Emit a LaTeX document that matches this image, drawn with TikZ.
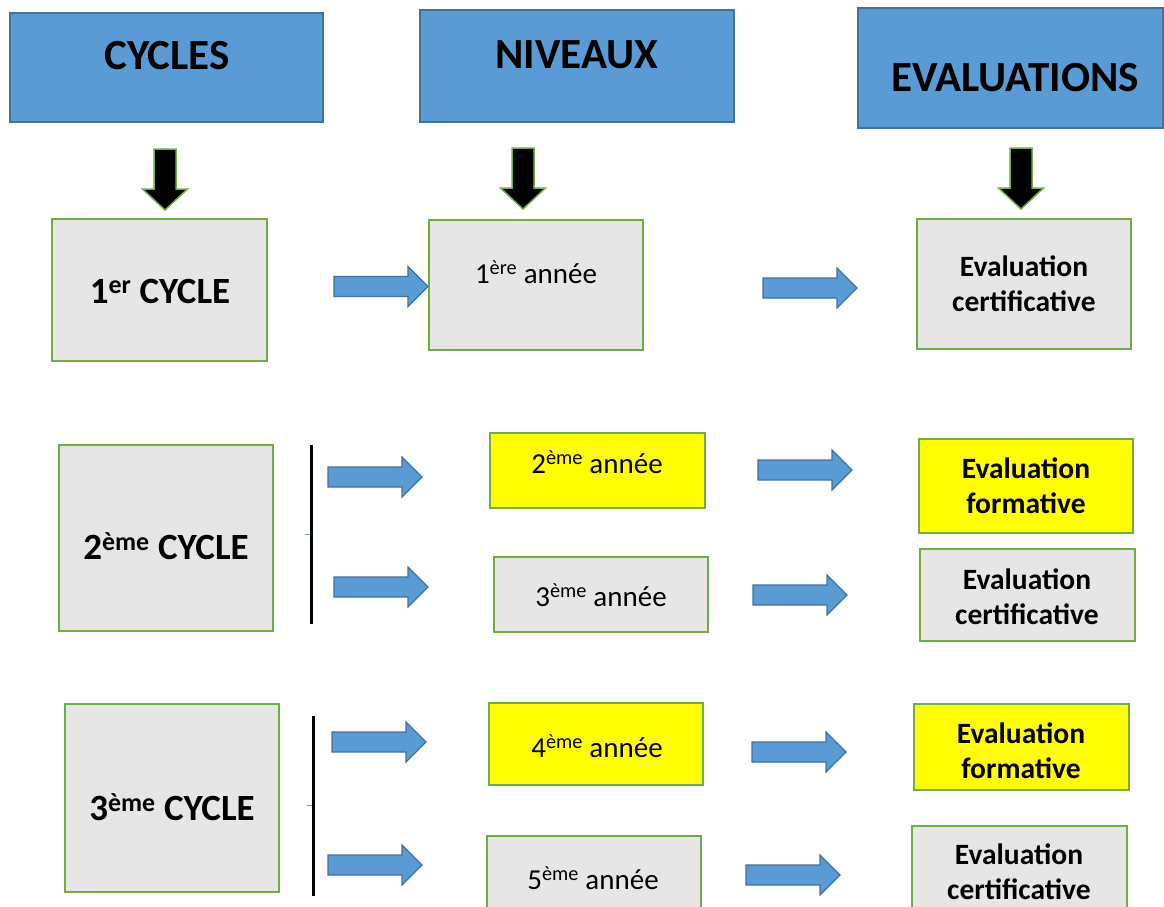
\documentclass[tikz,border=0pt]{standalone}
\usepackage{fontspec}
\setmainfont{Carlito}
\definecolor{hblue}{HTML}{5B9BD5}
\definecolor{hborder}{HTML}{41719C}
\definecolor{ggrey}{HTML}{E7E6E6}
\definecolor{ggreen}{HTML}{70AD47}
\definecolor{yel}{HTML}{FFFF00}
\tikzset{
  hdr/.style={draw=hborder, fill=hblue, line width=1.5pt, inner sep=0pt},
  gbox/.style={draw=ggreen, fill=ggrey, line width=1.6pt, inner sep=0pt},
  ybox/.style={gbox, fill=yel},
  htxt/.style={font=\fontsize{43}{50}\selectfont\bfseries, inner sep=0pt},
  ctxt/.style={font=\fontsize{37}{44}\selectfont\bfseries, inner sep=0pt},
  ntxt/.style={font=\fontsize{29}{35}\selectfont, inner sep=0pt},
  etxt/.style={font=\fontsize{29.5}{35}\selectfont\bfseries, align=center, inner sep=0pt},
  barrow/.pic={\draw[draw=hborder, fill=hblue, line width=1.2pt, line join=miter]
     (0,-10) -- (74,-10) -- (74,-20) -- (94,0) -- (74,20) -- (74,10) -- (0,10) -- cycle;},
  darrow/.pic={\draw[draw=ggreen, fill=black, line width=1.5pt, line join=miter]
     (-11,0) -- (11,0) -- (11,40) -- (22.5,40) -- (0,61) -- (-22.5,40) -- (-11,40) -- cycle;},
  vbar/.style={line width=3pt, draw=black},
  vtick/.style={line width=0.6pt, draw=hblue}
}
\begin{document}
\begin{tikzpicture}[x=1pt,y=-1pt]
\useasboundingbox (0,0) rectangle (1164,906);
\fill[white] (0,0) rectangle (1164,906);
\clip (0,0) rectangle (1164,906);

% headers
\node[hdr, minimum width=313pt, minimum height=109pt] (hc) at (166.5,67.5) {};
\node[htxt] (hct) at (167,56) {CYCLES};
\node[hdr, minimum width=314pt, minimum height=112pt] (hn) at (577,66) {};
\node[htxt] (hnt) at (577,55) {NIVEAUX};
\node[hdr, minimum width=305pt, minimum height=120pt] (he) at (1010.5,68) {};
\node[htxt] (het) at (1015,78) {EVALUATIONS};

% down arrows
\pic at (165,149) {darrow};
\pic at (523,148) {darrow};
\pic at (1021,148) {darrow};

% row 1
\node[gbox, minimum width=215pt, minimum height=142pt] (c1) at (159.5,290) {};
\node[ctxt] (c1t) at (160,291) {1\textsuperscript{er} CYCLE};
\node[gbox, minimum width=214pt, minimum height=130pt] (n1) at (536,285) {};
\node[ntxt] (n1t) at (536,272) {1\textsuperscript{ère} année};
\node[gbox, minimum width=214pt, minimum height=130pt] (e1) at (1024,284) {};
\node[etxt] (e1t) at (1024,284) {Evaluation\\certificative};

% row 2
\node[gbox, minimum width=214pt, minimum height=186pt] (c2) at (166,538) {};
\node[ctxt] (c2t) at (166,546) {2\textsuperscript{ème} CYCLE};
\node[ybox, minimum width=215pt, minimum height=75pt] (n2) at (597.5,470.5) {};
\node[ntxt] (n2t) at (597,462) {2\textsuperscript{ème} année};
\node[gbox, minimum width=214pt, minimum height=75pt] (n3) at (601,594.5) {};
\node[ntxt] (n3t) at (601,595) {3\textsuperscript{ème} année};
\node[ybox, minimum width=214pt, minimum height=94pt] (e2) at (1026,486) {};
\node[etxt] (e2t) at (1026,486) {Evaluation\\formative};
\node[gbox, minimum width=215pt, minimum height=92pt] (e3) at (1027.5,595) {};
\node[etxt] (e3t) at (1027,597) {Evaluation\\certificative};

% row 3
\node[gbox, minimum width=214pt, minimum height=188pt] (c3) at (172,798) {};
\node[ctxt] (c3t) at (172,807) {3\textsuperscript{ème} CYCLE};
\node[ybox, minimum width=214pt, minimum height=82pt] (n4) at (596,744) {};
\node[ntxt] (n4t) at (597,746) {4\textsuperscript{ème} année};
\node[gbox, minimum width=214pt, minimum height=80pt] (n5) at (594,876) {};
\node[ntxt] (n5t) at (593,878) {5\textsuperscript{ème} année};
\node[ybox, minimum width=215pt, minimum height=86pt] (e4) at (1021.5,747) {};
\node[etxt] (e4t) at (1021,751) {Evaluation\\formative};
\node[gbox, minimum width=215pt, minimum height=92pt] (e5) at (1019.5,872) {};
\node[etxt] (e5t) at (1019,872) {Evaluation\\certificative};

% block arrows
\pic at (334,286.5) {barrow};
\pic at (763,288) {barrow};
\pic at (328,477) {barrow};
\pic at (334,587) {barrow};
\pic at (758,470) {barrow};
\pic at (753,595) {barrow};
\pic at (332,742) {barrow};
\pic at (328,865) {barrow};
\pic at (752,752) {barrow};
\pic at (746,875) {barrow};

% vertical bars
\coordinate (b1t) at (311,445);
\coordinate (b1b) at (311,624);
\coordinate (b1m) at (311,534);
\coordinate (b1l) at (305,534);
\draw[vtick] (b1l) -- (b1m);
\draw[vbar] (b1t) -- (b1b);
\coordinate (b2t) at (313,716);
\coordinate (b2b) at (313,896);
\coordinate (b2m) at (313,805);
\coordinate (b2l) at (307,805);
\draw[vtick] (b2l) -- (b2m);
\draw[vbar] (b2t) -- (b2b);
\end{tikzpicture}
\end{document}
